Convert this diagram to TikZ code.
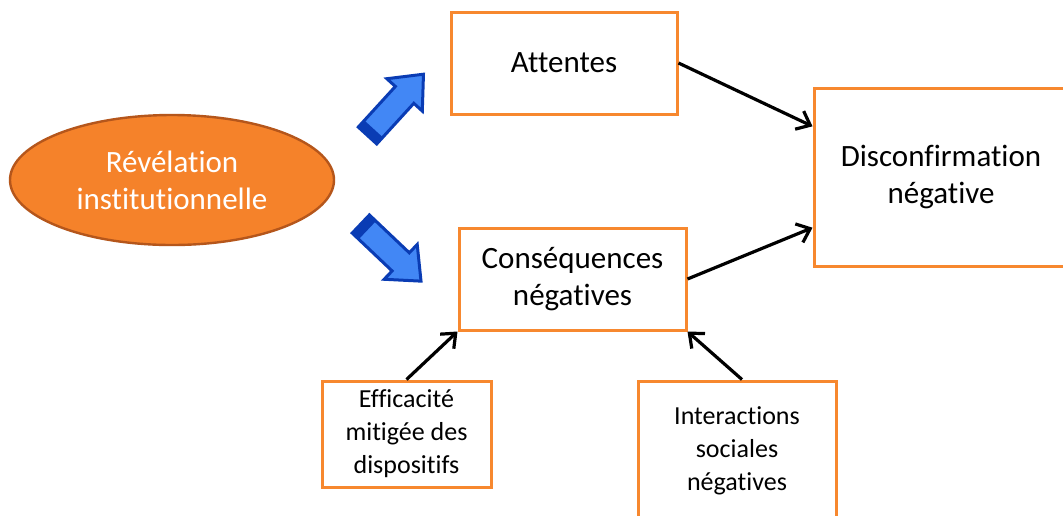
\documentclass[tikz,border=0pt]{standalone}
\usepackage{fontspec}
\setmainfont{Carlito}[Ligatures=NoCommon]
\usetikzlibrary{arrows.meta,calc,shapes.geometric}
\definecolor{boxorange}{HTML}{F7882F}
\definecolor{ellfill}{HTML}{F5822A}
\definecolor{elledge}{HTML}{B5561B}
\definecolor{bafill}{HTML}{4287F5}
\definecolor{baedge}{HTML}{0A3CB4}
\tikzset{
  box/.style={draw=boxorange, line width=1.5pt, fill=white, align=center, inner sep=0pt,
    font=\fontsize{15.5}{18.5}\selectfont},
  smallbox/.style={box, font=\fontsize{13}{16.5}\selectfont},
  conn/.style={draw=black, line width=1.6pt, -{Straight Barb[length=6pt,width=10pt]}},
  blockarrow/.pic={
    \path[fill=bafill, draw=baedge, line width=1.5pt]
      (0,-12.5) -- (55,-12.5) -- (55,-24) -- (83,0) -- (55,24) -- (55,12.5) -- (0,12.5) -- cycle;
    \fill[baedge] (0,-12.5) rectangle (9,12.5);
  }
}
\begin{document}
\begin{tikzpicture}[x=0.5pt,y=-0.5pt]
\useasboundingbox (0,0) rectangle (1063,515);
\fill[white] (0,0) rectangle (1063,515);
% ellipse
\node[ellipse, draw=elledge, line width=1.2pt, fill=ellfill, text=white, align=center,
  minimum width=162pt, minimum height=65pt, inner sep=0pt,
  font=\fontsize{15.5}{18.5}\selectfont] (rev) at (172,180) {Révélation\\institutionnelle};
% boxes
\node[box, minimum width=113pt, minimum height=51pt] (att) at (564,63) {Attentes};
\node[box, minimum width=127pt, minimum height=89pt] (dis) at (941,177) {Disconfirmation\\négative};
\node[box, minimum width=113.5pt, minimum height=51pt] (cons) at (572.5,279) {Conséquences\\négatives};
\node[smallbox, minimum width=84.5pt, minimum height=53pt] (eff) at (406.5,434) {Efficacité\\mitigée des\\dispositifs};
\node[smallbox, minimum width=99pt, minimum height=69.5pt] (int) at (737,450.5) {Interactions\\sociales\\négatives};
% block arrows
\pic[rotate=47.6] at (367.5,135.5) {blockarrow};
\pic[rotate=-43.5] at (360.8,224) {blockarrow};
% connectors
\draw[conn] (att.east) -- ($(dis.north west)!0.22!(dis.south west)$);
\draw[conn] (cons.east) -- ($(dis.north west)!0.78!(dis.south west)$);
\draw[conn] (eff.north) -- (cons.south west);
\draw[conn] ($(int.north)+(5,0)$) -- (cons.south east);
\end{tikzpicture}
\end{document}
